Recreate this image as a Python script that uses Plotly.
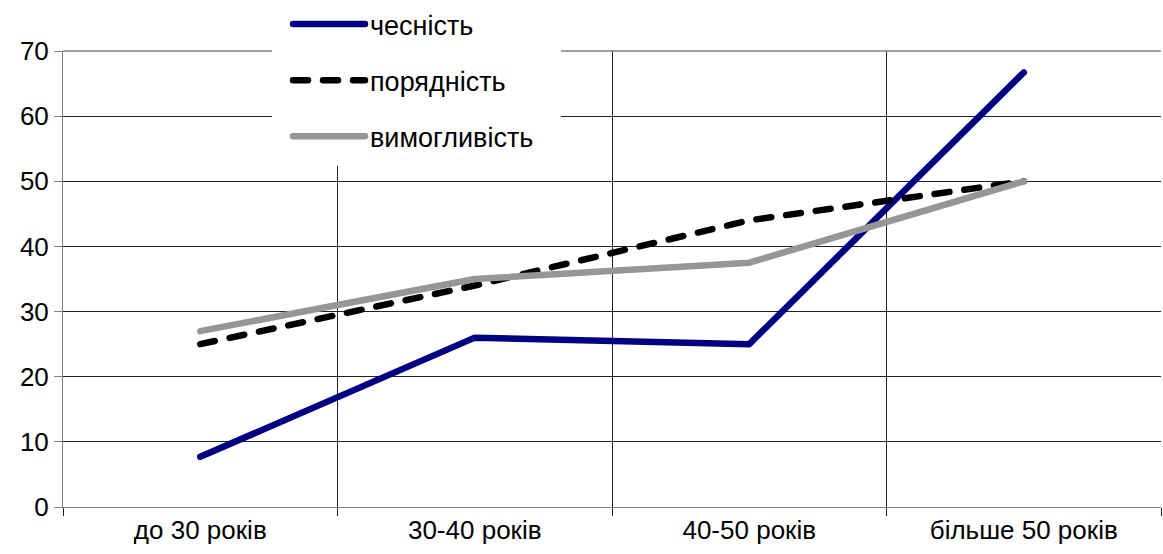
import plotly.graph_objects as go

categories = ["до 30 років", "30-40 років", "40-50 років", "більше 50 років"]
chesnist = [7.7, 26, 25, 66.7]
poriadnist = [25, 34, 44, 50]
vymoglyvist = [27, 35, 37.5, 50]

FONT = "Liberation Sans, Arial, sans-serif"

# plot area geometry in pixels
L, T, W, H = 63, 51, 1098, 456


def px_x(p):
    return (p - L) / W


def px_y(p):
    return (T + H - p) / H


fig = go.Figure()
fig.add_trace(go.Scatter(x=categories, y=chesnist, name="чесність", mode="lines",
                         line=dict(color="#000080", width=6.5), legendgroup="a"))
fig.add_trace(go.Scatter(x=categories, y=poriadnist, name="порядність", mode="lines",
                         line=dict(color="#000000", width=6.5, dash="15px,15px"), legendgroup="b"))
fig.add_trace(go.Scatter(x=categories, y=vymoglyvist, name="вимогливість", mode="lines",
                         line=dict(color="#969696", width=6.5), legendgroup="c"))

fig.update_layout(
    width=1163, height=554,
    margin=dict(l=L, r=1163 - L - W, t=T, b=554 - T - H, autoexpand=False),
    plot_bgcolor="white", paper_bgcolor="white",
    font=dict(family=FONT, size=26, color="black"),
    showlegend=True,
    legend=dict(x=px_x(288), y=px_y(0), xanchor="left", yanchor="top",
                bgcolor="rgba(0,0,0,0)", borderwidth=0, font=dict(size=27),
                itemwidth=72, tracegroupgap=18, traceorder="grouped"),
    xaxis=dict(type="category", tickson="boundaries", showgrid=True,
               gridcolor="#222222", gridwidth=1, ticks="outside", ticklen=8,
               tickcolor="#222222", showline=True, linecolor="#808080", linewidth=1,
               range=[-0.5, 3.5], zeroline=False, automargin=False),
    yaxis=dict(range=[0, 70], dtick=10, showgrid=True, gridcolor="#222222", gridwidth=1,
               ticks="outside", ticklen=8, tickcolor="#808080", showline=True,
               linecolor="#808080", linewidth=1, zeroline=False, automargin=False),
    shapes=[
        # top border line of the plot area (grey)
        dict(type="line", xref="paper", yref="paper", x0=0, x1=1, y0=1, y1=1,
             line=dict(color="#808080", width=1.5), layer="above"),
        # white legend backdrop hiding the gridlines
        dict(type="rect", xref="paper", yref="paper",
             x0=px_x(272), x1=px_x(561), y0=px_y(166), y1=px_y(0),
             fillcolor="white", line=dict(width=0), layer="above"),
    ],
)

post = """
document.body.style.margin = '0';
document.body.style.padding = '0';
document.querySelectorAll('.scatterlayer path.js-line, .legend path.js-line').forEach(function(p){
  p.style.strokeLinecap = 'round';
  p.style.strokeLinejoin = 'round';
});
"""

fig.write_html("out.html", post_script=post, config={"displayModeBar": False})
